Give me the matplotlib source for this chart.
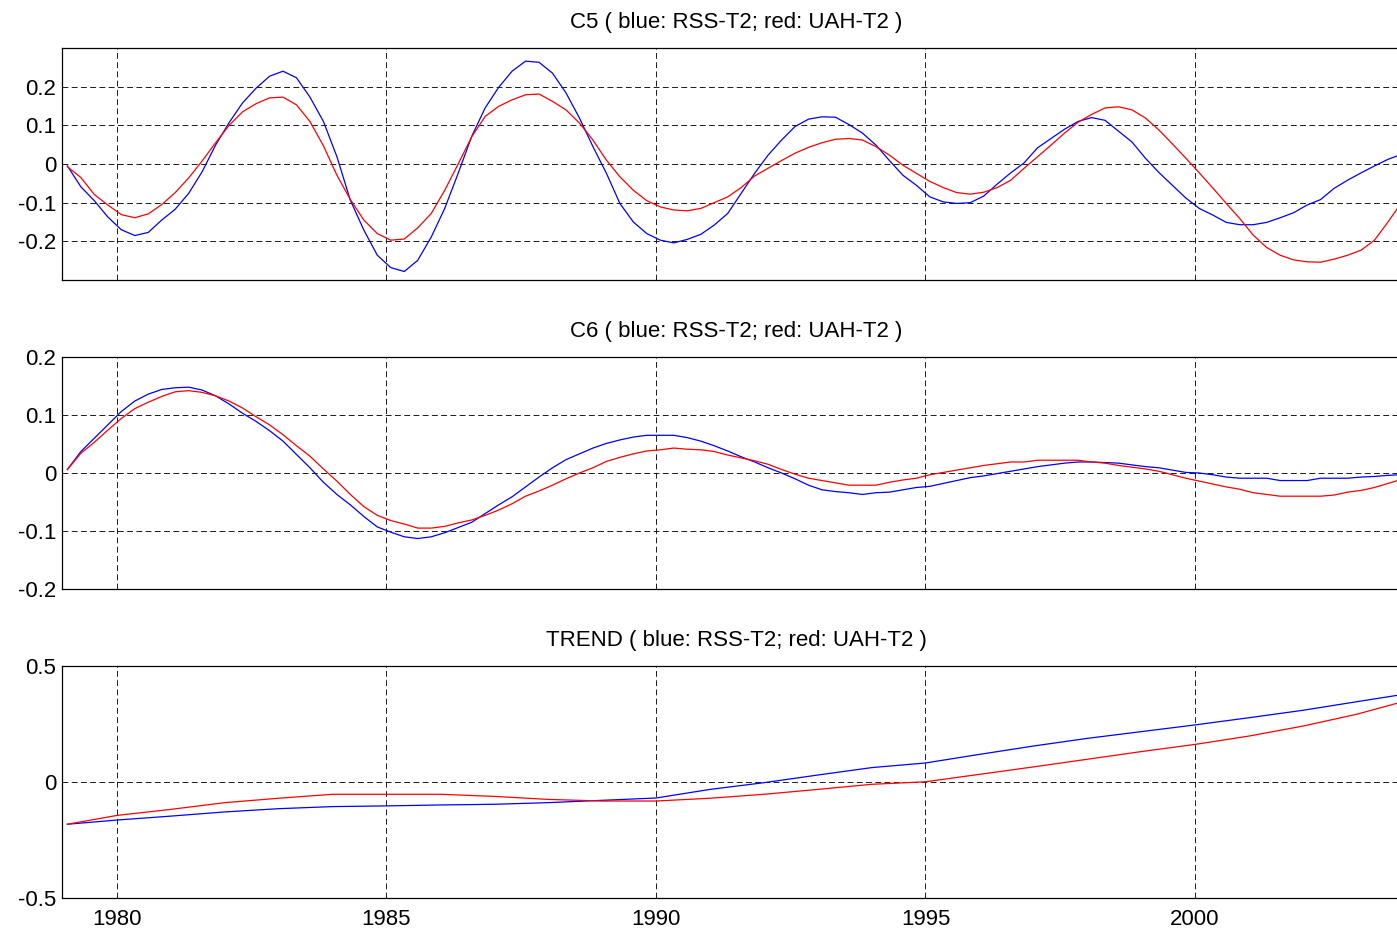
import numpy as np
import matplotlib
matplotlib.use("Agg")
import matplotlib.pyplot as plt

plt.rcParams["font.family"] = ["Liberation Sans", "DejaVu Sans"]

# quarterly time axis for the oscillatory components
years = 1979.08 + 0.25 * np.arange(100)

c5_rss = [
    -0.005, -0.059, -0.095, -0.137, -0.170, -0.185, -0.177, -0.145, -0.117, -0.076,
    -0.020, 0.049, 0.107, 0.158, 0.196, 0.227, 0.240, 0.223, 0.173, 0.110,
    0.019, -0.094, -0.171, -0.236, -0.268, -0.278, -0.249, -0.189, -0.115, -0.024,
    0.071, 0.145, 0.198, 0.240, 0.266, 0.263, 0.235, 0.184, 0.119, 0.045,
    -0.024, -0.102, -0.150, -0.180, -0.197, -0.204, -0.195, -0.182, -0.158, -0.128,
    -0.076, -0.024, 0.023, 0.062, 0.097, 0.116, 0.122, 0.121, 0.102, 0.080,
    0.049, 0.009, -0.029, -0.055, -0.085, -0.098, -0.102, -0.100, -0.083, -0.052,
    -0.023, 0.003, 0.042, 0.066, 0.090, 0.110, 0.120, 0.113, 0.085, 0.057,
    0.015, -0.022, -0.055, -0.088, -0.115, -0.132, -0.151, -0.157, -0.157, -0.151,
    -0.139, -0.126, -0.106, -0.092, -0.063, -0.042, -0.023, -0.005, 0.012, 0.025,
]
c5_uah = [
    -0.007, -0.035, -0.079, -0.106, -0.131, -0.139, -0.129, -0.105, -0.074, -0.036,
    0.008, 0.055, 0.100, 0.135, 0.156, 0.171, 0.173, 0.153, 0.110, 0.047,
    -0.029, -0.092, -0.145, -0.180, -0.197, -0.194, -0.165, -0.128, -0.068, 0.000,
    0.070, 0.123, 0.149, 0.166, 0.179, 0.181, 0.162, 0.140, 0.106, 0.062,
    0.010, -0.033, -0.068, -0.095, -0.111, -0.119, -0.121, -0.115, -0.100, -0.085,
    -0.061, -0.031, -0.011, 0.009, 0.028, 0.043, 0.055, 0.064, 0.066, 0.062,
    0.045, 0.023, -0.003, -0.024, -0.045, -0.061, -0.074, -0.078, -0.073, -0.061,
    -0.042, -0.011, 0.019, 0.049, 0.080, 0.108, 0.128, 0.145, 0.148, 0.140,
    0.119, 0.088, 0.052, 0.015, -0.023, -0.062, -0.102, -0.141, -0.184, -0.216,
    -0.236, -0.248, -0.253, -0.254, -0.246, -0.236, -0.223, -0.197, -0.150, -0.100,
]

c6_rss = [
    0.006, 0.037, 0.060, 0.083, 0.106, 0.124, 0.136, 0.144, 0.147, 0.148,
    0.143, 0.133, 0.119, 0.103, 0.089, 0.073, 0.055, 0.032, 0.009, -0.016,
    -0.037, -0.055, -0.075, -0.093, -0.102, -0.110, -0.113, -0.110, -0.103, -0.094,
    -0.085, -0.070, -0.055, -0.041, -0.024, -0.007, 0.009, 0.023, 0.033, 0.043,
    0.051, 0.057, 0.062, 0.065, 0.065, 0.065, 0.061, 0.055, 0.047, 0.038,
    0.028, 0.019, 0.009, 0.000, -0.010, -0.021, -0.029, -0.032, -0.034, -0.037,
    -0.034, -0.033, -0.029, -0.025, -0.023, -0.018, -0.013, -0.008, -0.005, -0.001,
    0.003, 0.007, 0.011, 0.014, 0.017, 0.019, 0.019, 0.018, 0.017, 0.014,
    0.011, 0.009, 0.005, 0.001, 0.000, -0.003, -0.007, -0.009, -0.009, -0.009,
    -0.013, -0.013, -0.013, -0.009, -0.009, -0.009, -0.007, -0.006, -0.004, -0.003,
]
c6_uah = [
    0.006, 0.034, 0.053, 0.074, 0.094, 0.111, 0.122, 0.132, 0.140, 0.142,
    0.139, 0.133, 0.124, 0.112, 0.097, 0.083, 0.066, 0.047, 0.029, 0.007,
    -0.014, -0.037, -0.058, -0.073, -0.082, -0.088, -0.095, -0.095, -0.092, -0.086,
    -0.081, -0.073, -0.064, -0.053, -0.040, -0.031, -0.021, -0.010, 0.000, 0.009,
    0.020, 0.027, 0.033, 0.038, 0.040, 0.043, 0.041, 0.040, 0.037, 0.031,
    0.026, 0.021, 0.015, 0.006, -0.002, -0.009, -0.013, -0.017, -0.021, -0.021,
    -0.021, -0.016, -0.012, -0.009, -0.003, 0.001, 0.005, 0.009, 0.013, 0.016,
    0.019, 0.019, 0.022, 0.022, 0.022, 0.022, 0.019, 0.017, 0.013, 0.010,
    0.007, 0.003, -0.003, -0.009, -0.014, -0.019, -0.024, -0.028, -0.034, -0.037,
    -0.040, -0.040, -0.040, -0.040, -0.038, -0.033, -0.030, -0.025, -0.018, -0.011,
]

# yearly samples of the residual trend
trend_years = [1979.08, 1980, 1981, 1982, 1983, 1984, 1985, 1986, 1987, 1988,
               1989, 1990, 1991, 1992, 1993, 1994, 1995, 1996, 1997, 1998,
               1999, 2000, 2001, 2002, 2003, 2003.9]
trend_rss = [-0.182, -0.164, -0.147, -0.129, -0.115, -0.106, -0.103, -0.099, -0.096, -0.089,
             -0.079, -0.069, -0.032, -0.003, 0.030, 0.062, 0.082, 0.119, 0.155, 0.188,
             0.217, 0.246, 0.277, 0.309, 0.346, 0.379]
trend_uah = [-0.182, -0.144, -0.118, -0.089, -0.070, -0.053, -0.053, -0.053, -0.062, -0.075,
             -0.082, -0.082, -0.070, -0.053, -0.032, -0.010, 0.001, 0.033, 0.065, 0.098,
             0.131, 0.162, 0.198, 0.241, 0.292, 0.349]

panels = [
    ("C5 ( blue: RSS-T2; red: UAH-T2 )", years, c5_rss, c5_uah,
     (-0.3, 0.3), [-0.2, -0.1, 0, 0.1, 0.2], ["-0.2", "-0.1", "0", "0.1", "0.2"]),
    ("C6 ( blue: RSS-T2; red: UAH-T2 )", years, c6_rss, c6_uah,
     (-0.2, 0.2), [-0.2, -0.1, 0, 0.1, 0.2], ["-0.2", "-0.1", "0", "0.1", "0.2"]),
    ("TREND ( blue: RSS-T2; red: UAH-T2 )", trend_years, trend_rss, trend_uah,
     (-0.5, 0.5), [-0.5, 0, 0.5], ["-0.5", "0", "0.5"]),
]
xticks = [1980, 1985, 1990, 1995, 2000]

W, H = 1397, 932
fig = plt.figure(figsize=(W / 100, H / 100), dpi=100)
tops = [48, 357, 666]
ax_h = 232
left_px, right_px = 62, 1410.6

for i, (title, x, rss, uah, ylim, yt, ytl) in enumerate(panels):
    top = tops[i]
    ax = fig.add_axes([left_px / W, 1 - (top + ax_h) / H,
                       (right_px - left_px) / W, ax_h / H])
    ax.plot(x, rss, color=(0, 0, 1), lw=0.9)
    ax.plot(x, uah, color=(1, 0, 0), lw=0.9)
    ax.set_xlim(1978.98, 2004.0)
    ax.set_ylim(*ylim)
    ax.set_yticks(yt)
    ax.set_yticklabels(ytl)
    ax.set_xticks(xticks)
    if i == 2:
        ax.set_xticklabels([str(v) for v in xticks])
    else:
        ax.set_xticklabels([])
    ax.grid(True, linestyle=(0, (6, 3.5)), color="0.1", linewidth=0.7)
    ax.tick_params(axis="both", length=0, labelsize=16, colors="black")
    ax.tick_params(axis="y", pad=4)
    ax.tick_params(axis="x", pad=8)
    for s in ax.spines.values():
        s.set_linewidth(0.9)
        s.set_color("black")
    ax.set_title(title, fontsize=16, pad=14.5)

fig.savefig("out.png", dpi=100)
